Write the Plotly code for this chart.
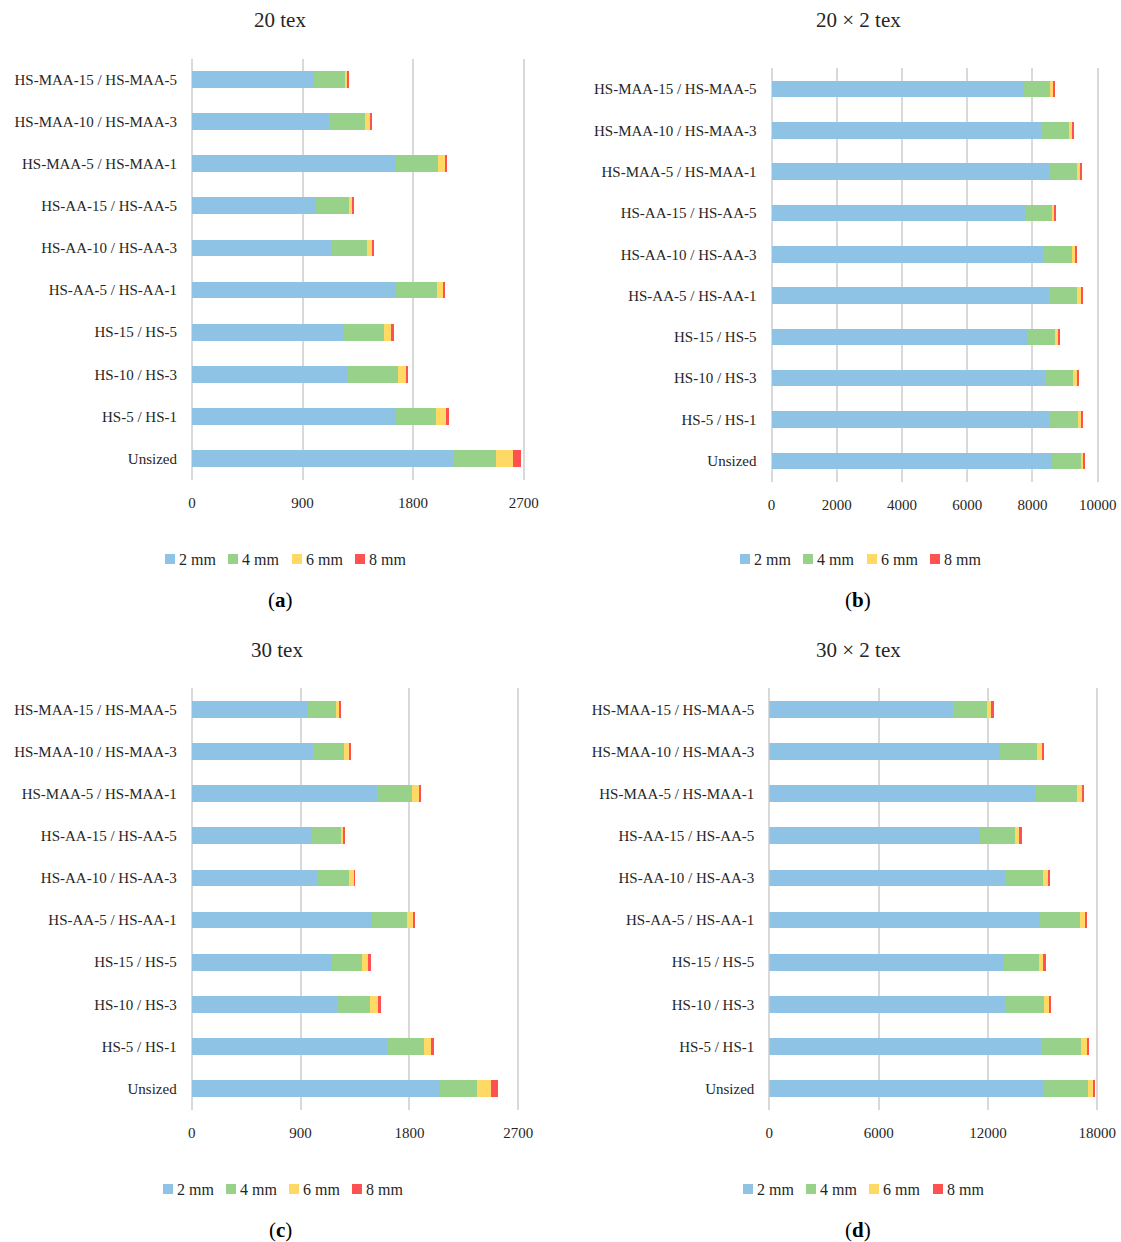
import plotly.graph_objects as go

categories = ["Unsized", "HS-5 / HS-1", "HS-10 / HS-3", "HS-15 / HS-5",
              "HS-AA-5 / HS-AA-1", "HS-AA-10 / HS-AA-3", "HS-AA-15 / HS-AA-5",
              "HS-MAA-5 / HS-MAA-1", "HS-MAA-10 / HS-MAA-3", "HS-MAA-15 / HS-MAA-5"]
series_names = ["2 mm", "4 mm", "6 mm", "8 mm"]
colors = ["#8EC3E6", "#98D18A", "#FFD966", "#FF5151"]

# Panel (a) 20 tex  (order: Unsized ... HS-MAA-15 / HS-MAA-5)
a_2mm = [2121, 1661, 1272, 1229, 1659, 1131, 1009, 1661, 1115, 992]
a_4mm = [353, 329, 403, 334, 334, 291, 269, 340, 291, 253]
a_6mm = [142, 76, 73, 63, 57, 49, 27, 65, 51, 22]
a_8mm = [60, 28, 14, 16, 6, 5, 8, 6, 11, 14]

# Panel (b) 20 x 2 tex
b_2mm = [8593, 8522, 8409, 7877, 8511, 8337, 7775, 8511, 8266, 7724]
b_4mm = [880, 859, 849, 819, 860, 870, 818, 860, 859, 818]
b_6mm = [72, 102, 102, 81, 112, 92, 60, 92, 92, 92]
b_8mm = [71, 31, 31, 31, 31, 31, 60, 41, 31, 21]

# Panel (c) 30 tex
c_2mm = [2044, 1612, 1198, 1163, 1493, 1047, 992, 1535, 1006, 964]
c_4mm = [314, 308, 279, 242, 287, 253, 242, 286, 253, 229]
c_6mm = [116, 61, 63, 52, 49, 42, 20, 61, 41, 27]
c_8mm = [55, 25, 25, 22, 9, 5, 11, 8, 9, 11]

# Panel (d) 30 x 2 tex
d_2mm = [15089, 14888, 13004, 12858, 14815, 12968, 11577, 14650, 12675, 10096]
d_4mm = [2396, 2213, 2067, 1939, 2231, 2048, 1903, 2232, 2012, 1866]
d_6mm = [329, 384, 329, 274, 329, 329, 274, 329, 329, 274]
d_8mm = [55, 55, 55, 91, 74, 37, 91, 73, 37, 73]

titles = ["20 tex", "20 × 2 tex", "30 tex", "30 × 2 tex"]
captions = ["(<b>a</b>)", "(<b>b</b>)", "(<b>c</b>)", "(<b>d</b>)"]
x_ticks = [[0, 900, 1800, 2700], [0, 2000, 4000, 6000, 8000, 10000],
           [0, 900, 1800, 2700], [0, 6000, 12000, 18000]]

panels = [
    [a_2mm, a_4mm, a_6mm, a_8mm],
    [b_2mm, b_4mm, b_6mm, b_8mm],
    [c_2mm, c_4mm, c_6mm, c_8mm],
    [d_2mm, d_4mm, d_6mm, d_8mm],
]

W, H = 1121, 1242
FONT = "Liberation Serif"
TXT = "#262626"

def px(x):
    return x / W

def py(y):
    return 1 - y / H

# plot-area boxes in pixels: (left, right, top, bottom)
boxes = [(192, 525, 58.5, 479.5), (771.5, 1099, 68.4, 481.5),
         (191.7, 519.6, 688.4, 1109.6), (769.3, 1098.6, 688.4, 1109.6)]
title_pos = [(280, 20), (858, 20), (277, 650), (858, 650)]
caption_pos = [(280, 600), (858, 600), (280, 1230), (858, 1230)]
# legend: x of each swatch's left edge, and vertical centre
legend_x = [[165, 228, 292, 355], [740, 803, 867, 930],
            [163, 226, 289, 352], [743, 806, 869, 933]]
legend_y = [559, 559, 1189, 1189]
SW = 10

fig = go.Figure()
layout = {}
annotations = []
shapes = []
for i, data in enumerate(panels):
    n = "" if i == 0 else str(i + 1)
    for s, (name, col) in enumerate(zip(series_names, colors)):
        fig.add_trace(go.Bar(
            y=categories, x=data[s], orientation="h", name=name,
            marker=dict(color=col, line=dict(width=0)),
            xaxis="x" + n, yaxis="y" + n, showlegend=False,
        ))
        # legend entry (swatch + label)
        lx, ly = legend_x[i][s], legend_y[i]
        shapes.append(dict(
            type="rect", xref="paper", yref="paper",
            x0=px(lx), x1=px(lx + SW), y0=py(ly + SW / 2), y1=py(ly - SW / 2),
            fillcolor=col, line=dict(width=0)))
        annotations.append(dict(
            text=name, x=px(lx + SW + 2), y=py(ly), xref="paper", yref="paper",
            xanchor="left", yanchor="middle", showarrow=False,
            font=dict(family=FONT, size=16, color=TXT)))
    l, r, t, b = boxes[i]
    layout["xaxis" + n] = dict(
        domain=[px(l), px(r)], anchor="y" + n, automargin=False,
        range=[0, x_ticks[i][-1] * 1.004], tickvals=x_ticks[i],
        tickformat="d",
        showgrid=True, gridcolor="#D9D9D9", gridwidth=2,
        zeroline=True, zerolinecolor="#D9D9D9", zerolinewidth=2,
        showline=False, ticks="", ticklabelstandoff=12,
        tickfont=dict(family=FONT, size=15, color=TXT),
        fixedrange=True,
    )
    layout["yaxis" + n] = dict(
        domain=[py(b), py(t)], anchor="x" + n, automargin=False,
        type="category", categoryorder="array", categoryarray=categories,
        showgrid=False, showline=False, ticks="", ticklabelstandoff=14,
        tickfont=dict(family=FONT, size=15, color=TXT),
        fixedrange=True,
    )
    tx, ty = title_pos[i]
    annotations.append(dict(
        text=titles[i], x=px(tx), y=py(ty), xref="paper", yref="paper",
        xanchor="center", yanchor="middle", showarrow=False,
        font=dict(family=FONT, size=21, color=TXT)))
    cx, cy = caption_pos[i]
    annotations.append(dict(
        text=captions[i], x=px(cx), y=py(cy), xref="paper", yref="paper",
        xanchor="center", yanchor="middle", showarrow=False,
        font=dict(family=FONT, size=21, color="#000000")))

fig.update_layout(
    width=W, height=H, autosize=False, margin=dict(l=0, r=0, t=0, b=0),
    barmode="stack", bargap=0.6, showlegend=False,
    paper_bgcolor="white", plot_bgcolor="white",
    annotations=annotations, shapes=shapes, **layout,
)

post = (
    "document.documentElement.style.overflow='hidden';"
    "document.body.style.margin='0';"
    "document.body.style.overflow='hidden';"
)
fig.write_html("out.html", config={"displayModeBar": False}, post_script=post)
